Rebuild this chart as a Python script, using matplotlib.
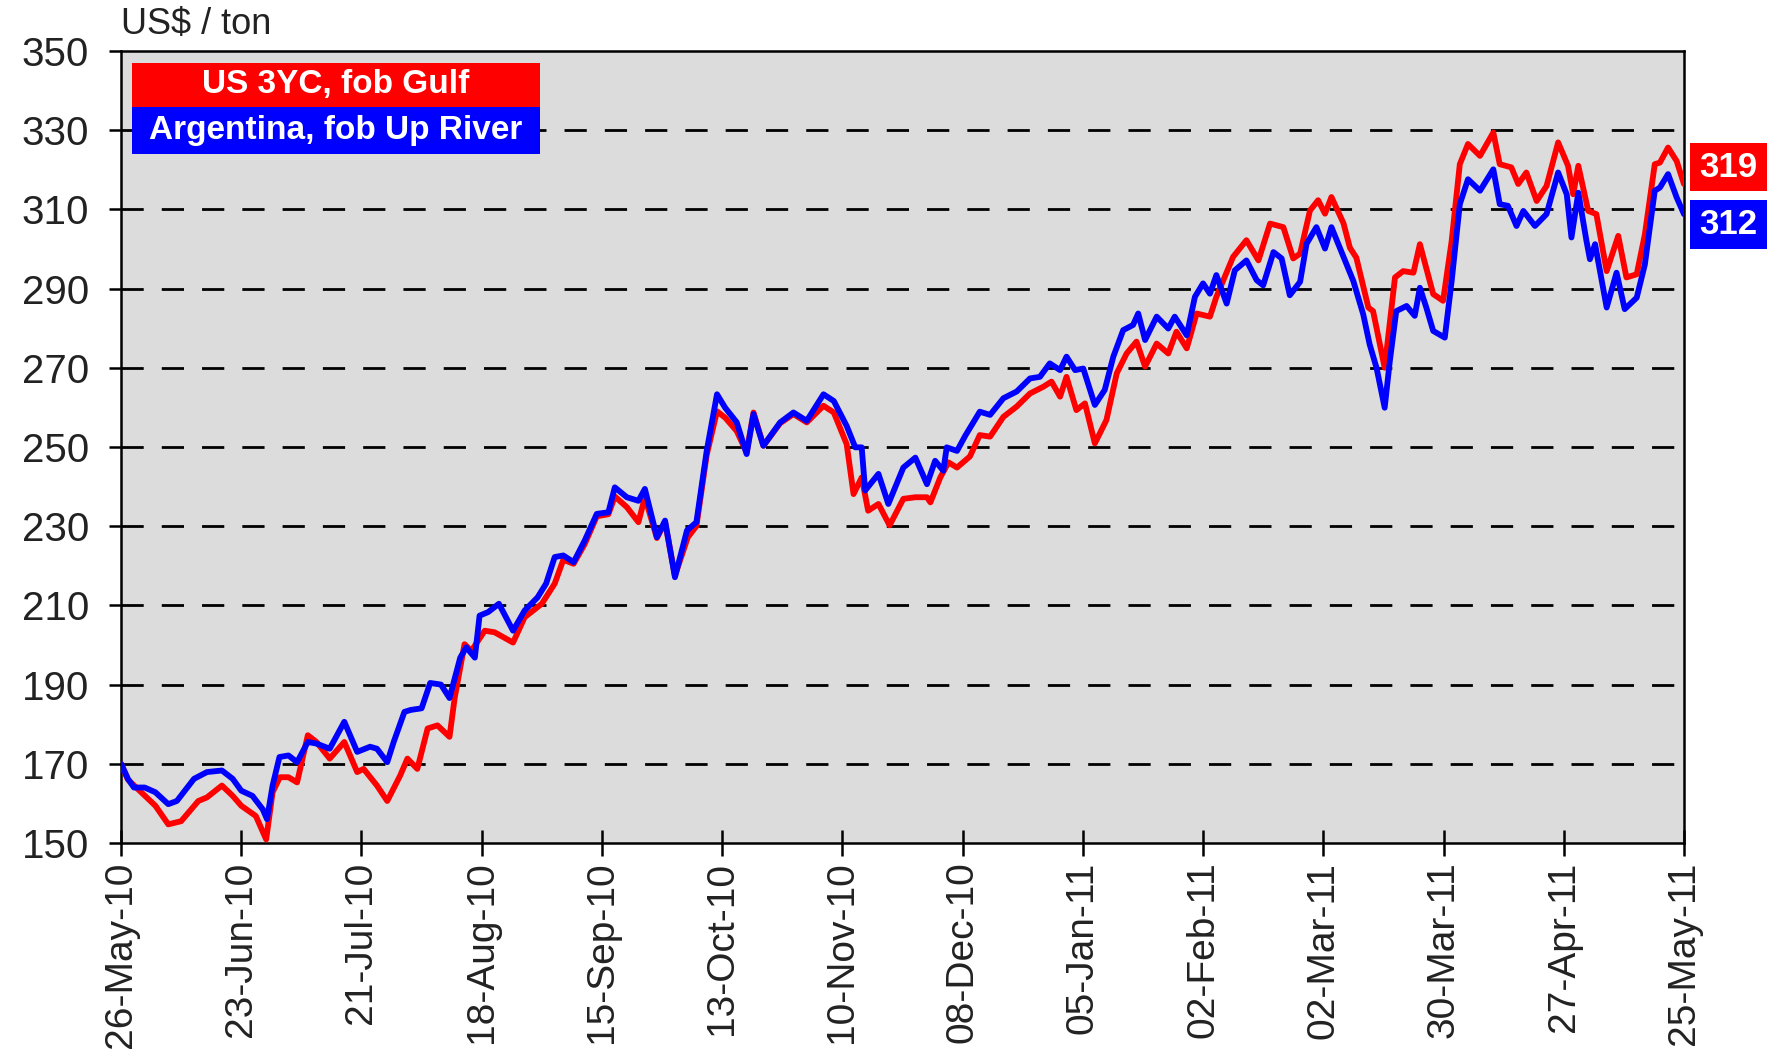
import numpy as np
import pandas as pd
import matplotlib
matplotlib.use('Agg')
import matplotlib.pyplot as plt
from matplotlib.patches import Rectangle

# day offsets from 26-May-10, price US$/ton
us_points = [(0, 170), (1.6, 166), (4.7, 162.8), (8, 159.4), (11, 154.7), (14, 155.5), (18, 160.6),
             (20, 161.5), (23.5, 164.5), (26, 161.9), (28, 159.4), (31.4, 156.8), (33.8, 150.9),
             (35.3, 162.8), (37, 166.6), (39, 166.6), (41, 165.3), (43.5, 177.2), (45.5, 175.5),
             (48.6, 171.3), (52, 175.5), (55, 167.9), (56.5, 168.7), (59.6, 164.5), (62, 160.6),
             (65, 167), (66.7, 171.3), (69, 168.7), (71.4, 178.9), (73.7, 179.7), (76.5, 176.8),
             (77.7, 186.6), (80, 200.2), (81.6, 198.5), (84.7, 203.6), (87, 203.2), (91.3, 200.6),
             (94, 207), (98, 210.4), (101, 215.5), (103, 221.5), (105.4, 220.5), (108, 225.5),
             (110.8, 232.5), (113.5, 233), (115, 237.5), (117.8, 234.8), (120.5, 231), (122, 237.3),
             (124.8, 227), (126.7, 231), (129, 217.5), (132, 227.2), (134, 230), (136.4, 248),
             (138.8, 259), (140.7, 257.4), (143.4, 254), (145.7, 248.6), (147.3, 258.7), (149.6, 250.3),
             (153.5, 256), (156.6, 258.3), (159.7, 256.2), (163.6, 260.4), (166, 258.7), (169, 250.7),
             (170.6, 238.1), (172.5, 242.3), (174, 233.9), (176.4, 235.6), (179, 230.2), (182.2, 236.9),
             (185, 237.3), (187.7, 237.3), (188.5, 236), (190.8, 242.3), (192.7, 246.1), (194.7, 244.8),
             (197.7, 247.6), (200, 253), (202.4, 252.6), (205.5, 257.6), (208.6, 260.2), (211.7, 263.5),
             (214.8, 265.2), (216.7, 266.5), (218.7, 262.7), (220.2, 267.7), (222.5, 259.3), (224.5, 261),
             (226.8, 250.9), (229.5, 256.8), (231.9, 268.6), (234.2, 273.6), (236.5, 276.6), (238.5, 270.3),
             (241.2, 276.1), (243.9, 273.6), (245.8, 279.1), (248.2, 274.9), (250.5, 283.7), (253.6, 282.9),
             (255.1, 287.9), (259, 298), (262.1, 302.2), (264.9, 297.1), (267.6, 306.4), (270.7, 305.5),
             (273, 297.6), (274.6, 298.8), (276.9, 309.7), (278.8, 312.3), (280.4, 308.9), (281.9, 313.1),
             (284.7, 306.5), (286.2, 300.3), (287.7, 297.8), (290.5, 285.2), (291.6, 284.3), (294.3, 270),
             (296.7, 292.8), (298.6, 294.4), (301, 294), (302.5, 301.2), (305.6, 288.6), (307.9, 286.9),
             (309.9, 302), (311.8, 321.4), (313.7, 326.5), (316.5, 323.5), (319.6, 329.4), (321.1, 321.4),
             (323.8, 320.6), (325.4, 316.4), (327.3, 319.3), (329.7, 312.1), (332, 315.9), (334.7, 326.9),
             (337, 321), (338.2, 313.8), (339.4, 321), (341.7, 309.6), (343.6, 308.8), (346, 294.4),
             (348.7, 303.3), (350.6, 292.8), (353, 293.6), (354.9, 303.7), (357.2, 321.4), (358.4, 321.8),
             (360.3, 325.6), (362.3, 322.2), (364, 316.4)]

ar_points = [(0, 170), (1.6, 166.2), (3, 164), (5.5, 164), (8, 162.8), (11, 159.8), (13, 160.6),
             (17, 166.2), (20, 167.9), (23.5, 168.3), (26, 166.2), (28, 163.2), (30.6, 161.9), (33, 158.5),
             (34, 156), (35.3, 164.5), (36.9, 171.7), (39, 172.1), (41, 170.4), (43.5, 175.5), (45.5, 175.1),
             (48.6, 173.8), (52, 180.6), (55, 173), (58, 174.3), (59.6, 173.8), (62, 170.4), (63.5, 175.5),
             (66, 183.1), (67.5, 183.6), (70, 184), (72, 190.4), (74.5, 190), (76.5, 186.6), (79, 196.8),
             (80.4, 199.4), (82.4, 196.8), (83.5, 207.4), (85.5, 208.3), (88, 210.4), (91.3, 203.6),
             (94, 208.7), (97, 212), (99, 215.5), (101, 222.2), (103, 222.6), (105.4, 220.9), (108, 226.4),
             (110.8, 233.1), (113.5, 233.5), (115, 239.8), (117.8, 237.3), (120.5, 236.4), (122, 239.4),
             (124.8, 227.2), (126.7, 231.4), (129, 217.1), (131.8, 228.9), (134, 231), (136.4, 249),
             (138.8, 263.3), (140.7, 259.9), (143.4, 256.2), (145.7, 248.2), (147.3, 258.3), (149.6, 250.3),
             (153.5, 256.2), (156.6, 258.7), (159.7, 256.6), (163.6, 263.3), (166, 261.6), (169, 255.3),
             (171, 249.9), (172.5, 249.9), (173.3, 239), (176.4, 243.2), (178.7, 235.6), (182.2, 244.8),
             (185, 247.3), (187.7, 240.6), (189.6, 246.5), (191.5, 244), (192.3, 249.9), (194.7, 249),
             (196.6, 252.8), (200, 258.9), (202.4, 258.1), (205.5, 262.3), (208.6, 264), (211.7, 267.3),
             (214, 267.7), (216.3, 271.1), (218.7, 269.4), (220.2, 272.8), (222.2, 269.4), (224.1, 269.8),
             (226.8, 260.6), (229.1, 264.4), (231.1, 272.8), (233.4, 279.5), (235.7, 280.8), (236.9, 283.7),
             (238.5, 277), (241.2, 282.9), (243.9, 279.9), (245.4, 282.9), (248.2, 278.2), (250.1, 287.9),
             (252, 291.3), (253.6, 288.7), (255.1, 293.4), (257.5, 286.2), (259.4, 294.6), (262.1, 297.1),
             (264.5, 292.1), (266, 290.8), (268.4, 299.2), (270.3, 297.6), (272.2, 288.3), (274.6, 291.7),
             (276.1, 301.3), (278.4, 305.5), (280.4, 300.1), (281.9, 305.5), (284.7, 298), (287, 291.9),
             (289.3, 283.5), (290.8, 275.9), (292.4, 270), (294.3, 259.9), (295.5, 271.7), (297, 284.3),
             (299.4, 285.6), (301.3, 283.1), (302.5, 290.2), (304, 285.2), (305.6, 279.3), (308.3, 277.6),
             (309.9, 291.9), (311.8, 311.3), (313.7, 317.6), (316.5, 314.7), (319.6, 320.1), (321.1, 311.3),
             (323, 310.9), (325, 305.8), (326.6, 309.6), (329.3, 305.8), (332, 308.8), (334.7, 319.3),
             (336.7, 313.8), (337.8, 302.9), (339.4, 314.2), (341.3, 302), (342.1, 297.4), (343.3, 301.2),
             (346, 285.2), (348.3, 294), (350.2, 284.8), (353, 287.7), (354.9, 296.1), (357.2, 314.7),
             (358.4, 315.5), (360.3, 318.9), (362.3, 313), (364, 308.8)]

series_names = ['US 3YC, fob Gulf', 'Argentina, fob Up River']
series_colors = ['#FF0000', '#0000FF']
end_labels = ['319', '312']
tick_labels = list(pd.date_range('2010-05-26', periods=14, freq='28D').strftime('%d-%b-%y'))
y_ticks = list(range(150, 351, 20))

plt.rcParams['font.family'] = ['Liberation Sans', 'DejaVu Sans']

fig = plt.figure(figsize=(17.67, 10.61), dpi=100)
ax = fig.add_axes([0.0685, 0.2055, 0.8845, 0.7465])
ax.set_facecolor('#DCDCDC')

for pts, c, z in zip([us_points, ar_points], series_colors, [3, 4]):
    d = np.array(pts)
    ax.plot(d[:, 0], d[:, 1], color=c, lw=4.2, solid_joinstyle='round',
            solid_capstyle='round', zorder=z)

for y in y_ticks[1:-1]:
    ax.axhline(y, color='black', lw=2, dashes=(8, 6.5), zorder=1)

ax.set_xlim(0, 364)
ax.set_ylim(150, 350)
ax.set_yticks(y_ticks)
ax.set_xticks(np.arange(len(tick_labels)) * 28)
ax.set_xticklabels(tick_labels, rotation=90, fontsize=28)
ax.tick_params(axis='x', direction='inout', length=19, width=1.8, pad=4, colors='black',
               labelcolor='#222222')
ax.tick_params(axis='y', direction='out', length=9, width=1.8, labelsize=29, pad=14,
               labelcolor='#222222')
for s in ax.spines.values():
    s.set_linewidth(1.8)

fig.text(0.0685, 0.977, 'US$ / ton', fontsize=26, ha='left', va='center', color='#222222')

# legend boxes
box_y = [0.8992, 0.8549]
box_h = [0.0415, 0.0443]
for name, c, by, bh in zip(series_names, series_colors, box_y, box_h):
    fig.add_artist(Rectangle((0.0747, by), 0.2309, bh, transform=fig.transFigure,
                             facecolor=c, edgecolor='none', zorder=5))
    fig.text(0.0747 + 0.2309 / 2, by + bh / 2, name, color='white', fontsize=24,
             fontweight='bold', ha='center', va='center', zorder=6)

# end value labels
lab_y = [0.820, 0.7653]
lab_h = [0.0452, 0.0462]
for txt, c, by, bh in zip(end_labels, series_colors, lab_y, lab_h):
    fig.add_artist(Rectangle((0.9564, by), 0.0436, bh, transform=fig.transFigure,
                             facecolor=c, edgecolor='none'))
    fig.text(0.978, by + bh / 2, txt, color='white', fontsize=25, fontweight='bold',
             ha='center', va='center')

fig.savefig('out.png', dpi=100)
